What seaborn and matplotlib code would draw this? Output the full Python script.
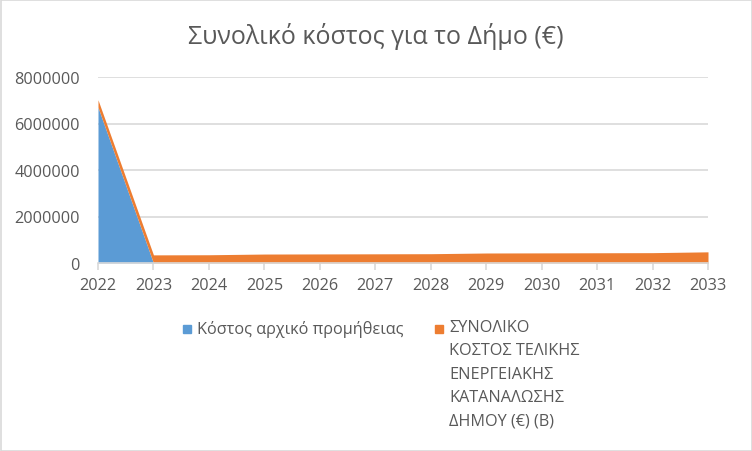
import matplotlib
matplotlib.use("Agg")
import matplotlib.pyplot as plt
import seaborn as sns
import pandas as pd
from matplotlib.patches import Rectangle

# values
years = [2022, 2023, 2024, 2025, 2026, 2027, 2028, 2029, 2030, 2031, 2032, 2033]
initial_cost = [6700000, 0, 0, 0, 0, 0, 0, 0, 0, 0, 0, 0]
energy_cost = [320000, 350000, 355000, 385000, 390000, 395000, 400000,
               430000, 435000, 440000, 445000, 480000]
y_ticks = [0, 2000000, 4000000, 6000000, 8000000]

title = "Συνολικό κόστος για το Δήμο (€)"
label_initial = "Κόστος αρχικό προμήθειας"
label_energy = "ΣΥΝΟΛΙΚΟ\nΚΟΣΤΟΣ ΤΕΛΙΚΗΣ\nΕΝΕΡΓΕΙΑΚΗΣ\nΚΑΤΑΝΑΛΩΣΗΣ\nΔΗΜΟΥ (€) (Β)"
colors = ["#5b9bd5", "#ed7d31"]
text_color = "#595959"
grid_color = "#d9d9d9"

df = pd.DataFrame({"year": years, "initial": initial_cost, "energy": energy_cost})

sns.set_theme(style="white")
plt.rcParams["font.family"] = ["Open Sans", "DejaVu Sans"]

W, H = 752, 452
fig = plt.figure(figsize=(W / 100, H / 100), dpi=100)
ax = fig.add_axes([98 / W, 1 - 264 / H, 610 / W, 186 / H])

ax.stackplot(df["year"], df["initial"], df["energy"], colors=colors, linewidth=0)

ax.set_xlim(years[0], years[-1])
ax.set_ylim(y_ticks[0], y_ticks[-1])
ax.set_xticks(years)
ax.set_yticks(y_ticks)
ax.yaxis.set_major_formatter(lambda v, p: f"{int(v)}")
ax.grid(axis="y", color=grid_color, linewidth=1.2)
ax.set_axisbelow(True)
sns.despine(ax=ax, left=True)
ax.spines["bottom"].set_color(grid_color)
ax.spines["bottom"].set_linewidth(1.2)
ax.tick_params(axis="x", bottom=True, length=5, width=1.2, color=grid_color,
               labelsize=11.7, labelcolor=text_color, pad=5)
ax.tick_params(axis="y", length=0, labelsize=11.7, labelcolor=text_color, pad=13)

fig.text(0.5, 1 - 36 / H, title, ha="center", va="center", fontsize=18, color=text_color)

# legend below the plot, drawn the way Excel lays it out
fig.patches.append(Rectangle((183 / W, 1 - 334 / H), 8 / W, 8 / H,
                             transform=fig.transFigure, color=colors[0]))
fig.text(197 / W, 1 - 330 / H, label_initial, ha="left", va="center",
         fontsize=11.7, color=text_color)
fig.patches.append(Rectangle((435 / W, 1 - 334 / H), 8 / W, 8 / H,
                             transform=fig.transFigure, color=colors[1]))
fig.text(449 / W, 1 - 320 / H, label_energy, ha="left", va="top",
         fontsize=11.7, color=text_color, linespacing=1.62)

# chart border
fig.patches.append(Rectangle((0.5 / W, 0.5 / H), (W - 1) / W, (H - 1) / H,
                             transform=fig.transFigure, fill=False,
                             edgecolor=grid_color, linewidth=1.2))

fig.savefig("out.png", dpi=100)
